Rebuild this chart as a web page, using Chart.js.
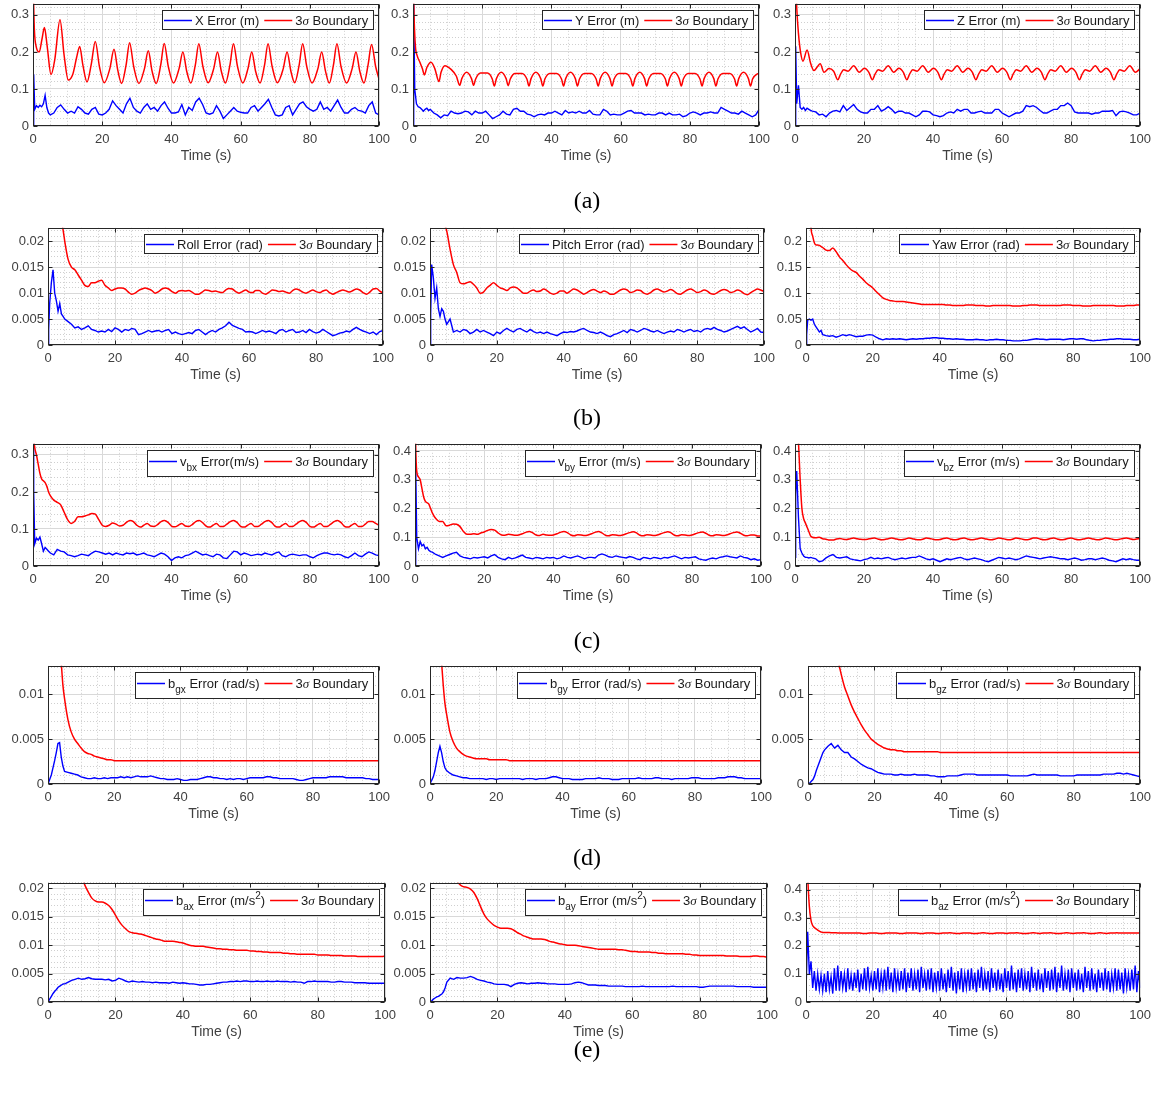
<!DOCTYPE html>
<html>
<head>
<meta charset="utf-8">
<script src="https://cdn.jsdelivr.net/npm/chart.js@4.4.1/dist/chart.umd.min.js"></script>
<style>
  body { margin: 0; background: #fff; width: 1163px; height: 1095px; position: relative; overflow: hidden; }
  .cap { position: absolute; width: 120px; margin-left: -60px; text-align: center; font-family: "Liberation Serif", "DejaVu Serif", serif; font-size: 24px; color: #000; line-height: 24px; }
</style>
</head>
<body>
<script>
// common time grid (s) for most series
const tGrid = [0, 0.2, 0.5, 1, 1.5, 2, 2.5, 3, 3.5, 4, 4.5, 5,
  6, 7, 8, 9, 10, 11, 12, 13, 14, 15,
  16, 17, 18, 19, 20, 21, 22, 23, 24, 25,
  26, 27, 28, 29, 30, 31, 32, 33, 34, 35,
  36, 37, 38, 39, 40, 41, 42, 43, 44, 45,
  46, 47, 48, 49, 50, 51, 52, 53, 54, 55,
  56, 57, 58, 59, 60, 61, 62, 63, 64, 65,
  66, 67, 68, 69, 70, 71, 72, 73, 74, 75,
  76, 77, 78, 79, 80, 81, 82, 83, 84, 85,
  86, 87, 88, 89, 90, 91, 92, 93, 94, 95,
  96, 97, 98, 99, 100];

// half-second grid for the b_az error
const tHalf = [0, 0.5, 1, 1.5, 2, 2.5, 3, 3.5, 4, 4.5, 5, 5.5, 6, 6.5, 7, 7.5, 8, 8.5, 9, 9.5,
  10, 10.5, 11, 11.5, 12, 12.5, 13, 13.5, 14, 14.5, 15, 15.5, 16, 16.5, 17, 17.5, 18, 18.5, 19, 19.5,
  20, 20.5, 21, 21.5, 22, 22.5, 23, 23.5, 24, 24.5, 25, 25.5, 26, 26.5, 27, 27.5, 28, 28.5, 29, 29.5,
  30, 30.5, 31, 31.5, 32, 32.5, 33, 33.5, 34, 34.5, 35, 35.5, 36, 36.5, 37, 37.5, 38, 38.5, 39, 39.5,
  40, 40.5, 41, 41.5, 42, 42.5, 43, 43.5, 44, 44.5, 45, 45.5, 46, 46.5, 47, 47.5, 48, 48.5, 49, 49.5,
  50, 50.5, 51, 51.5, 52, 52.5, 53, 53.5, 54, 54.5, 55, 55.5, 56, 56.5, 57, 57.5, 58, 58.5, 59, 59.5,
  60, 60.5, 61, 61.5, 62, 62.5, 63, 63.5, 64, 64.5, 65, 65.5, 66, 66.5, 67, 67.5, 68, 68.5, 69, 69.5,
  70, 70.5, 71, 71.5, 72, 72.5, 73, 73.5, 74, 74.5, 75, 75.5, 76, 76.5, 77, 77.5, 78, 78.5, 79, 79.5,
  80, 80.5, 81, 81.5, 82, 82.5, 83, 83.5, 84, 84.5, 85, 85.5, 86, 86.5, 87, 87.5, 88, 88.5, 89, 89.5,
  90, 90.5, 91, 91.5, 92, 92.5, 93, 93.5, 94, 94.5, 95, 95.5, 96, 96.5, 97, 97.5, 98, 98.5, 99, 99.5,
  100];

// ---- (a) position ----
const xErr = [0, 0.14, 0.045, 0.055, 0.05, 0.056, 0.052, 0.06, 0.083, 0.05, 0.035, 0.03,
  0.035, 0.05, 0.057, 0.045, 0.035, 0.04, 0.035, 0.052, 0.045, 0.035,
  0.032, 0.045, 0.05, 0.032, 0.03, 0.035, 0.045, 0.068, 0.055, 0.045,
  0.035, 0.06, 0.075, 0.05, 0.04, 0.035, 0.05, 0.06, 0.045, 0.05,
  0.04, 0.055, 0.065, 0.048, 0.035, 0.035, 0.038, 0.058, 0.03, 0.05,
  0.042, 0.065, 0.075, 0.058, 0.035, 0.032, 0.035, 0.055, 0.04, 0.02,
  0.03, 0.04, 0.05, 0.04, 0.037, 0.035, 0.035, 0.05, 0.055, 0.04,
  0.05, 0.06, 0.072, 0.05, 0.03, 0.027, 0.03, 0.05, 0.055, 0.03,
  0.045, 0.06, 0.065, 0.052, 0.045, 0.04, 0.045, 0.065, 0.045, 0.05,
  0.04, 0.055, 0.07, 0.05, 0.035, 0.035, 0.045, 0.05, 0.042, 0.04,
  0.035, 0.055, 0.065, 0.035, 0.03];
const xBoundT = [0, 0.4, 0.9, 1.8, 2.6, 3.3, 4.1, 5.2, 6.3, 7.8, 9, 10.2, 11.5, 12.6, 13.5, 14.4, 15.6, 16.8, 18, 19.2,
  20.6, 22.2, 23.4, 24.5, 25.6, 26.9, 27.9, 29.1, 30.6, 32.2, 33.3, 34.4, 35.6, 36.9, 37.9, 39.1,
  40.6, 42.2, 43.3, 44.4, 45.6, 46.9, 47.9, 49.1, 50.6, 52.2, 53.3, 54.4, 55.6, 56.9, 57.9, 59.1,
  60.6, 62.1, 63.2, 64.3, 65.6, 66.9, 67.9, 69.1, 70.6, 72.3, 73.4, 74.5, 75.6, 76.9, 77.9, 79.1,
  80.6, 82.3, 83.4, 84.5, 85.6, 86.8, 87.8, 89, 90.6, 92.2, 93.3, 94.4, 95.6, 96.8, 97.8, 99, 100];
const xBoundV = [0.4, 0.26, 0.215, 0.2, 0.235, 0.266, 0.215, 0.139, 0.18, 0.287, 0.19, 0.124, 0.14, 0.185, 0.215, 0.165, 0.119, 0.165, 0.228, 0.16,
  0.117, 0.155, 0.207, 0.15, 0.115, 0.165, 0.225, 0.16, 0.115, 0.155, 0.203, 0.148, 0.115, 0.165, 0.223, 0.16,
  0.116, 0.155, 0.2, 0.148, 0.116, 0.165, 0.222, 0.16, 0.117, 0.155, 0.2, 0.148, 0.116, 0.165, 0.222, 0.16,
  0.116, 0.155, 0.2, 0.148, 0.116, 0.165, 0.222, 0.16, 0.117, 0.155, 0.2, 0.148, 0.117, 0.165, 0.222, 0.16,
  0.116, 0.155, 0.2, 0.148, 0.116, 0.165, 0.222, 0.16, 0.116, 0.155, 0.2, 0.148, 0.116, 0.165, 0.22, 0.16, 0.125];

const yErr = [0, 0.33, 0.1, 0.06, 0.052, 0.05, 0.045, 0.04, 0.045, 0.048, 0.042, 0.045,
  0.035, 0.03, 0.022, 0.03, 0.028, 0.04, 0.035, 0.033, 0.035, 0.04,
  0.038, 0.03, 0.04, 0.035, 0.035, 0.04, 0.03, 0.02, 0.025, 0.03,
  0.04, 0.032, 0.03, 0.045, 0.048, 0.04, 0.04, 0.032, 0.03, 0.025,
  0.03, 0.032, 0.03, 0.035, 0.035, 0.04, 0.035, 0.03, 0.042, 0.035,
  0.038, 0.035, 0.04, 0.035, 0.035, 0.042, 0.032, 0.03, 0.03, 0.045,
  0.04, 0.03, 0.032, 0.03, 0.03, 0.035, 0.04, 0.042, 0.035, 0.035,
  0.035, 0.03, 0.032, 0.03, 0.03, 0.035, 0.035, 0.03, 0.035, 0.03,
  0.03, 0.032, 0.025, 0.028, 0.035, 0.038, 0.035, 0.03, 0.035, 0.035,
  0.038, 0.035, 0.035, 0.05, 0.045, 0.04, 0.035, 0.035, 0.032, 0.04,
  0.035, 0.03, 0.025, 0.03, 0.045];
const yBoundT = [0, 0.3, 0.7, 1.2, 2, 2.7, 3.3, 4, 5.2, 6.3, 7.5, 8.1, 9.2, 11, 12.5,
  13.5, 14.1, 15.5, 16.9, 17.5, 18.1, 19.5, 21.5, 22.9,
  23.5, 24.1, 25.5, 26.9, 27.5, 28.1, 29.5, 31.5, 32.9,
  33.5, 34.1, 35.5, 36.9, 37.5, 38.1, 39.5, 41.5, 42.9,
  43.5, 44.1, 45.5, 46.9, 47.5, 48.1, 49.5, 51.5, 52.9,
  53.5, 54.1, 55.5, 56.9, 57.5, 58.1, 59.5, 61.5, 62.9,
  63.5, 64.1, 65.5, 66.9, 67.5, 68.1, 69.5, 71.5, 72.9,
  73.5, 74.1, 75.5, 76.9, 77.5, 78.1, 79.5, 81.5, 82.9,
  83.5, 84.1, 85.5, 86.9, 87.5, 88.1, 89.5, 91.5, 92.9,
  93.5, 94.1, 95.5, 96.9, 97.5, 98.1, 99.5, 100];
const yBoundV = [0.45, 0.3, 0.215, 0.19, 0.172, 0.155, 0.138, 0.158, 0.172, 0.155, 0.12, 0.145, 0.163, 0.153, 0.135,
  0.11, 0.128, 0.145, 0.128, 0.11, 0.127, 0.143, 0.143, 0.127,
  0.108, 0.128, 0.145, 0.128, 0.109, 0.127, 0.142, 0.142, 0.127,
  0.108, 0.128, 0.145, 0.128, 0.108, 0.127, 0.142, 0.142, 0.127,
  0.108, 0.128, 0.145, 0.128, 0.108, 0.127, 0.142, 0.142, 0.127,
  0.108, 0.128, 0.145, 0.128, 0.108, 0.127, 0.142, 0.142, 0.127,
  0.108, 0.128, 0.145, 0.128, 0.108, 0.127, 0.142, 0.142, 0.127,
  0.108, 0.128, 0.145, 0.128, 0.108, 0.127, 0.142, 0.142, 0.127,
  0.108, 0.128, 0.145, 0.128, 0.108, 0.127, 0.142, 0.142, 0.127,
  0.108, 0.128, 0.145, 0.128, 0.108, 0.127, 0.141, 0.142];

const zErr = [0, 0.215, 0.06, 0.11, 0.05, 0.045, 0.05, 0.042, 0.048, 0.045, 0.042, 0.04,
  0.038, 0.03, 0.032, 0.025, 0.035, 0.04, 0.042, 0.038, 0.055, 0.042,
  0.05, 0.058, 0.045, 0.038, 0.035, 0.035, 0.045, 0.045, 0.055, 0.04,
  0.045, 0.052, 0.045, 0.035, 0.04, 0.04, 0.035, 0.035, 0.03, 0.025,
  0.03, 0.04, 0.04, 0.038, 0.03, 0.028, 0.025, 0.028, 0.035, 0.038,
  0.035, 0.045, 0.04, 0.045, 0.045, 0.035, 0.035, 0.038, 0.04, 0.035,
  0.035, 0.035, 0.045, 0.045, 0.035, 0.03, 0.025, 0.03, 0.035, 0.035,
  0.04, 0.055, 0.052, 0.055, 0.05, 0.042, 0.035, 0.035, 0.04, 0.045,
  0.045, 0.055, 0.055, 0.062, 0.055, 0.038, 0.035, 0.035, 0.035, 0.035,
  0.032, 0.035, 0.035, 0.04, 0.04, 0.04, 0.042, 0.028, 0.038, 0.04,
  0.038, 0.035, 0.03, 0.03, 0.035];
const zBoundT = [0, 0.5, 1, 1.6, 2.3, 3.5, 4.5, 5.5, 6.5, 7.3, 8.4, 9.8, 11.2,
  12.4, 13.2, 14.1, 15.4, 17, 18.6, 20.1, 21.4,
  22.4, 23.2, 24.1, 25.4, 27, 28.6, 30.1, 31.4,
  32.4, 33.2, 34.1, 35.4, 37, 38.6, 40.1, 41.4,
  42.4, 43.2, 44.1, 45.4, 47, 48.6, 50.1, 51.4,
  52.4, 53.2, 54.1, 55.4, 57, 58.6, 60.1, 61.4,
  62.4, 63.2, 64.1, 65.4, 67, 68.6, 70.1, 71.4,
  72.4, 73.2, 74.1, 75.4, 77, 78.6, 80.1, 81.4,
  82.4, 83.2, 84.1, 85.4, 87, 88.6, 90.1, 91.4,
  92.4, 93.2, 94.1, 95.4, 97, 98.6, 100];
const zBoundV = [0.45, 0.32, 0.25, 0.2, 0.175, 0.205, 0.17, 0.15, 0.16, 0.168, 0.145, 0.155, 0.148,
  0.125, 0.14, 0.152, 0.148, 0.163, 0.145, 0.156, 0.145,
  0.125, 0.14, 0.152, 0.148, 0.163, 0.145, 0.156, 0.145,
  0.125, 0.14, 0.152, 0.148, 0.163, 0.145, 0.156, 0.145,
  0.125, 0.14, 0.152, 0.148, 0.163, 0.145, 0.156, 0.145,
  0.125, 0.14, 0.152, 0.148, 0.163, 0.145, 0.156, 0.145,
  0.125, 0.14, 0.152, 0.148, 0.163, 0.145, 0.156, 0.145,
  0.125, 0.14, 0.152, 0.148, 0.163, 0.145, 0.156, 0.145,
  0.125, 0.14, 0.152, 0.148, 0.163, 0.145, 0.156, 0.145,
  0.125, 0.14, 0.152, 0.148, 0.163, 0.145, 0.155];

// ---- (b) attitude ----
const rollErr = [0, 0.003, 0.008, 0.012, 0.0145, 0.01, 0.0085, 0.0065, 0.008, 0.006, 0.0055, 0.005,
  0.0045, 0.004, 0.0033, 0.0035, 0.003, 0.0033, 0.0037, 0.003, 0.0028, 0.0025,
  0.0027, 0.0025, 0.003, 0.0026, 0.0033, 0.003, 0.0025, 0.003, 0.0028, 0.0032,
  0.003, 0.002, 0.0022, 0.0025, 0.0028, 0.0025, 0.0027, 0.0028, 0.0025, 0.0028,
  0.003, 0.0022, 0.0025, 0.0022, 0.002, 0.0022, 0.0024, 0.0022, 0.0028, 0.003,
  0.0025, 0.002, 0.0025, 0.0028, 0.0025, 0.003, 0.0033, 0.0037, 0.0044, 0.0038,
  0.0035, 0.0032, 0.003, 0.0025, 0.0026, 0.0025, 0.0022, 0.0025, 0.0028, 0.0025,
  0.0027, 0.0025, 0.0022, 0.0028, 0.003, 0.0025, 0.0028, 0.003, 0.0024, 0.0025,
  0.0028, 0.0024, 0.003, 0.0026, 0.0023, 0.0025, 0.003, 0.0026, 0.0022, 0.0018,
  0.002, 0.0023, 0.0024, 0.0027, 0.0025, 0.003, 0.0034, 0.003, 0.0027, 0.0025,
  0.0022, 0.0025, 0.002, 0.0026, 0.0028];
const rollBound = [0.06, 0.055, 0.05, 0.045, 0.04, 0.036, 0.032, 0.029, 0.026, 0.024, 0.0222, 0.02,
  0.0165, 0.015, 0.0145, 0.0135, 0.0125, 0.0115, 0.0113, 0.012, 0.012, 0.0123,
  0.0125, 0.0115, 0.011, 0.0105, 0.0108, 0.011, 0.011, 0.0108, 0.0102, 0.0098,
  0.01, 0.0105, 0.0108, 0.011, 0.0108, 0.0105, 0.01, 0.0103, 0.0108, 0.011,
  0.0108, 0.0103, 0.01, 0.0104, 0.0105, 0.0104, 0.0105, 0.0102, 0.0098, 0.0098,
  0.0102, 0.0106, 0.0105, 0.0103, 0.0104, 0.0102, 0.0101, 0.0106, 0.0109, 0.0108,
  0.0103, 0.01, 0.0103, 0.0106, 0.0102, 0.0101, 0.0105, 0.0105, 0.01, 0.0098,
  0.0102, 0.0106, 0.0105, 0.0103, 0.0104, 0.0102, 0.01, 0.0105, 0.0108, 0.0106,
  0.0102, 0.01, 0.0103, 0.0106, 0.0103, 0.0101, 0.0104, 0.0106, 0.0101, 0.0098,
  0.0101, 0.0104, 0.0106, 0.0104, 0.0102, 0.0105, 0.0108, 0.0106, 0.0101, 0.0098,
  0.0102, 0.0108, 0.0109, 0.0104, 0.01];

const pitchErr = [0, 0.006, 0.0155, 0.013, 0.009, 0.011, 0.007, 0.0055, 0.007, 0.0065, 0.005, 0.004,
  0.005, 0.0025, 0.0028, 0.0025, 0.003, 0.0028, 0.0022, 0.0025, 0.003, 0.0025,
  0.0028, 0.0025, 0.0022, 0.0018, 0.0025, 0.0022, 0.0028, 0.0032, 0.0028, 0.0025,
  0.003, 0.0032, 0.0028, 0.0025, 0.003, 0.0026, 0.0023, 0.0025, 0.0022, 0.0025,
  0.0022, 0.002, 0.0018, 0.0022, 0.0025, 0.0024, 0.0026, 0.0025, 0.0027, 0.003,
  0.0032, 0.0028, 0.0025, 0.0024, 0.0022, 0.0025, 0.0022, 0.0018, 0.0016, 0.002,
  0.0022, 0.0025, 0.0028, 0.0024, 0.003, 0.0028, 0.0025, 0.0028, 0.0032, 0.003,
  0.0027, 0.0025, 0.0028, 0.0025, 0.0022, 0.0025, 0.0027, 0.0025, 0.003, 0.0028,
  0.0025, 0.0028, 0.003, 0.0026, 0.0028, 0.0025, 0.003, 0.0032, 0.003, 0.0034,
  0.003, 0.0028, 0.0025, 0.0027, 0.003, 0.0033, 0.0036, 0.0032, 0.0035, 0.003,
  0.0025, 0.0028, 0.0032, 0.0025, 0.0024];
const pitchBound = [0.06, 0.055, 0.05, 0.045, 0.04, 0.036, 0.032, 0.029, 0.026, 0.024, 0.023, 0.022,
  0.0185, 0.0155, 0.014, 0.012, 0.0118, 0.012, 0.0122, 0.0117, 0.011, 0.01,
  0.0102, 0.011, 0.0115, 0.012, 0.0115, 0.011, 0.0108, 0.0105, 0.011, 0.0112,
  0.011, 0.0105, 0.01, 0.01, 0.0104, 0.0106, 0.0103, 0.0104, 0.0108, 0.0105,
  0.01, 0.0098, 0.01, 0.0104, 0.0104, 0.01, 0.0104, 0.0108, 0.0106, 0.0102,
  0.0098, 0.0101, 0.0105, 0.0107, 0.0104, 0.0101, 0.0104, 0.0102, 0.0098, 0.0098,
  0.0102, 0.0106, 0.0108, 0.0106, 0.0101, 0.0103, 0.0106, 0.0105, 0.01, 0.0098,
  0.0101, 0.0106, 0.0108, 0.0105, 0.0102, 0.0104, 0.0107, 0.0104, 0.0099, 0.0098,
  0.0102, 0.0106, 0.0108, 0.0105, 0.0101, 0.0103, 0.0106, 0.0104, 0.0099, 0.0098,
  0.0101, 0.0105, 0.0107, 0.0105, 0.0101, 0.0103, 0.0106, 0.0104, 0.0099, 0.0097,
  0.0101, 0.0105, 0.0108, 0.0106, 0.0103];

const yawErr = [0, 0.02, 0.048, 0.05, 0.048, 0.05, 0.04, 0.035, 0.03, 0.025, 0.028, 0.02,
  0.018, 0.017, 0.018, 0.015, 0.017, 0.02, 0.018, 0.02, 0.018, 0.016,
  0.017, 0.017, 0.019, 0.02, 0.019, 0.015, 0.012, 0.01, 0.012, 0.011,
  0.012, 0.011, 0.012, 0.011, 0.01, 0.011, 0.012, 0.011, 0.012, 0.012,
  0.013, 0.013, 0.014, 0.014, 0.013, 0.013, 0.012, 0.012, 0.011, 0.012,
  0.011, 0.011, 0.01, 0.01, 0.01, 0.011, 0.01, 0.01, 0.009, 0.01,
  0.01, 0.011, 0.01, 0.01, 0.009, 0.009, 0.008, 0.008, 0.008, 0.009,
  0.009, 0.01, 0.011, 0.012, 0.011, 0.011, 0.01, 0.011, 0.011, 0.011,
  0.011, 0.01, 0.011, 0.012, 0.012, 0.011, 0.012, 0.012, 0.01, 0.009,
  0.008, 0.009, 0.009, 0.01, 0.01, 0.011, 0.011, 0.012, 0.012, 0.011,
  0.011, 0.011, 0.01, 0.01, 0.011];
const yawBound = [0.6, 0.5, 0.4, 0.3, 0.226, 0.21, 0.197, 0.193, 0.193, 0.192, 0.19, 0.188,
  0.183, 0.182, 0.187, 0.18, 0.17, 0.163, 0.155, 0.148, 0.143, 0.14,
  0.133, 0.127, 0.12, 0.115, 0.11, 0.103, 0.097, 0.091, 0.088, 0.086,
  0.085, 0.084, 0.084, 0.084, 0.083, 0.082, 0.081, 0.08, 0.079, 0.078,
  0.078, 0.078, 0.078, 0.078, 0.078, 0.078, 0.077, 0.077, 0.076, 0.076,
  0.076, 0.076, 0.077, 0.077, 0.077, 0.076, 0.076, 0.076, 0.075, 0.075,
  0.076, 0.076, 0.076, 0.076, 0.076, 0.076, 0.075, 0.075, 0.075, 0.076,
  0.076, 0.077, 0.077, 0.077, 0.076, 0.076, 0.076, 0.076, 0.076, 0.076,
  0.076, 0.077, 0.077, 0.077, 0.076, 0.076, 0.076, 0.075, 0.075, 0.075,
  0.076, 0.076, 0.076, 0.076, 0.076, 0.076, 0.076, 0.075, 0.075, 0.075,
  0.076, 0.076, 0.076, 0.077, 0.077];

// ---- (c) velocity ----
const vbxErr = [0.33, 0.2, 0.06, 0.075, 0.07, 0.078, 0.06, 0.04, 0.05, 0.045, 0.04, 0.035,
  0.03, 0.045, 0.04, 0.038, 0.03, 0.028, 0.025, 0.028, 0.032, 0.03,
  0.028, 0.035, 0.04, 0.038, 0.035, 0.032, 0.035, 0.03, 0.035, 0.032,
  0.03, 0.035, 0.033, 0.035, 0.03, 0.032, 0.035, 0.03, 0.028, 0.025,
  0.03, 0.035, 0.032, 0.025, 0.015, 0.022, 0.025, 0.022, 0.028, 0.03,
  0.035, 0.04, 0.035, 0.03, 0.032, 0.028, 0.025, 0.032, 0.03, 0.022,
  0.02, 0.03, 0.04, 0.038, 0.03, 0.035, 0.032, 0.028, 0.03, 0.032,
  0.03, 0.035, 0.032, 0.03, 0.035, 0.038, 0.028, 0.025, 0.03, 0.032,
  0.03, 0.028, 0.03, 0.03, 0.025, 0.022, 0.028, 0.032, 0.035, 0.035,
  0.032, 0.03, 0.032, 0.03, 0.025, 0.022, 0.028, 0.035, 0.028, 0.025,
  0.032, 0.038, 0.035, 0.03, 0.028];
const vbxBound = [0.4, 0.35, 0.32, 0.3, 0.275, 0.25, 0.235, 0.23, 0.225, 0.215, 0.2, 0.19,
  0.178, 0.172, 0.165, 0.145, 0.125, 0.115, 0.12, 0.133, 0.133, 0.135,
  0.138, 0.142, 0.14, 0.125, 0.11, 0.107, 0.11, 0.116, 0.113, 0.108,
  0.11, 0.118, 0.123, 0.12, 0.11, 0.105, 0.11, 0.115, 0.108, 0.107,
  0.112, 0.12, 0.123, 0.118, 0.108, 0.106, 0.11, 0.115, 0.108, 0.107,
  0.112, 0.12, 0.123, 0.117, 0.108, 0.105, 0.11, 0.115, 0.107, 0.107,
  0.113, 0.12, 0.123, 0.117, 0.107, 0.105, 0.11, 0.115, 0.107, 0.107,
  0.113, 0.12, 0.123, 0.117, 0.107, 0.105, 0.11, 0.115, 0.107, 0.107,
  0.113, 0.12, 0.123, 0.117, 0.107, 0.105, 0.11, 0.115, 0.107, 0.107,
  0.113, 0.12, 0.123, 0.117, 0.107, 0.105, 0.11, 0.115, 0.107, 0.107,
  0.113, 0.12, 0.12, 0.115, 0.11];

const vbyErr = [0, 0.35, 0.1, 0.06, 0.085, 0.07, 0.075, 0.06, 0.065, 0.055, 0.05, 0.048,
  0.04, 0.035, 0.03, 0.035, 0.04, 0.045, 0.048, 0.035, 0.03, 0.028,
  0.025, 0.03, 0.028, 0.03, 0.032, 0.028, 0.035, 0.04, 0.03, 0.025,
  0.022, 0.03, 0.025, 0.028, 0.033, 0.038, 0.03, 0.028, 0.025, 0.03,
  0.028, 0.025, 0.03, 0.028, 0.03, 0.025, 0.028, 0.035, 0.03, 0.028,
  0.032, 0.035, 0.03, 0.025, 0.03, 0.03, 0.028, 0.038, 0.042, 0.038,
  0.032, 0.03, 0.035, 0.032, 0.03, 0.028, 0.033, 0.03, 0.025, 0.022,
  0.03, 0.028, 0.025, 0.03, 0.028, 0.025, 0.03, 0.028, 0.032, 0.035,
  0.03, 0.025, 0.03, 0.028, 0.03, 0.032, 0.025, 0.022, 0.02, 0.025,
  0.028, 0.025, 0.03, 0.032, 0.035, 0.032, 0.03, 0.028, 0.035, 0.03,
  0.028, 0.022, 0.025, 0.02, 0.022];
const vbyBound = [0.6, 0.42, 0.33, 0.31, 0.3, 0.27, 0.24, 0.225, 0.22, 0.215, 0.2, 0.185,
  0.165, 0.155, 0.155, 0.14, 0.142, 0.146, 0.145, 0.137, 0.12, 0.11,
  0.11, 0.112, 0.11, 0.115, 0.118, 0.124, 0.127, 0.125, 0.115, 0.108,
  0.107, 0.11, 0.109, 0.107, 0.108, 0.112, 0.117, 0.12, 0.115, 0.108,
  0.106, 0.11, 0.108, 0.107, 0.108, 0.112, 0.117, 0.12, 0.116, 0.108,
  0.105, 0.109, 0.108, 0.106, 0.108, 0.112, 0.117, 0.12, 0.115, 0.107,
  0.105, 0.109, 0.108, 0.106, 0.108, 0.112, 0.116, 0.119, 0.115, 0.107,
  0.105, 0.109, 0.108, 0.106, 0.108, 0.112, 0.116, 0.119, 0.115, 0.107,
  0.105, 0.109, 0.108, 0.106, 0.108, 0.112, 0.116, 0.118, 0.114, 0.107,
  0.105, 0.109, 0.108, 0.106, 0.108, 0.112, 0.116, 0.118, 0.114, 0.107,
  0.105, 0.108, 0.108, 0.104, 0.104];

const vbzErr = [0.03, 0.25, 0.33, 0.17, 0.06, 0.045, 0.035, 0.03, 0.03, 0.028, 0.03, 0.028,
  0.025, 0.015, 0.018, 0.028, 0.035, 0.04, 0.03, 0.028, 0.03, 0.032,
  0.025, 0.022, 0.02, 0.018, 0.022, 0.025, 0.03, 0.025, 0.028, 0.025,
  0.028, 0.03, 0.025, 0.022, 0.025, 0.028, 0.025, 0.028, 0.03, 0.03,
  0.035, 0.03, 0.025, 0.022, 0.025, 0.02, 0.015, 0.02, 0.025, 0.022,
  0.025, 0.028, 0.03, 0.025, 0.022, 0.025, 0.028, 0.025, 0.022, 0.018,
  0.015, 0.02, 0.025, 0.03, 0.028, 0.025, 0.028, 0.025, 0.022, 0.025,
  0.03, 0.035, 0.032, 0.03, 0.028, 0.025, 0.028, 0.03, 0.032, 0.03,
  0.028, 0.025, 0.025, 0.022, 0.025, 0.028, 0.025, 0.02, 0.022, 0.025,
  0.025, 0.022, 0.025, 0.028, 0.025, 0.02, 0.018, 0.015, 0.02, 0.025,
  0.022, 0.025, 0.022, 0.02, 0.02];
const vbzBound = [0.6, 0.55, 0.5, 0.43, 0.3, 0.2, 0.165, 0.15, 0.135, 0.12, 0.105, 0.1,
  0.098, 0.1, 0.095, 0.093, 0.09, 0.09, 0.094, 0.096, 0.093, 0.092,
  0.095, 0.097, 0.095, 0.093, 0.092, 0.093, 0.096, 0.097, 0.094, 0.091,
  0.092, 0.095, 0.097, 0.095, 0.092, 0.091, 0.094, 0.097, 0.095, 0.092,
  0.091, 0.093, 0.097, 0.096, 0.093, 0.091, 0.092, 0.096, 0.097, 0.094,
  0.091, 0.092, 0.096, 0.097, 0.094, 0.091, 0.092, 0.095, 0.097, 0.095,
  0.092, 0.091, 0.094, 0.097, 0.096, 0.093, 0.091, 0.093, 0.097, 0.096,
  0.093, 0.091, 0.093, 0.097, 0.097, 0.094, 0.091, 0.092, 0.096, 0.097,
  0.094, 0.091, 0.092, 0.096, 0.097, 0.094, 0.091, 0.092, 0.095, 0.097,
  0.095, 0.092, 0.091, 0.094, 0.097, 0.096, 0.093, 0.091, 0.093, 0.096,
  0.097, 0.095, 0.092, 0.094, 0.096];

// ---- (d) gyro bias ----
const bgxErr = [0, 0.0002, 0.0005, 0.001, 0.0018, 0.0026, 0.0035, 0.0045, 0.0046, 0.003, 0.002, 0.0014,
  0.0013, 0.0012, 0.0011, 0.001, 0.0008, 0.0007, 0.0006, 0.0006, 0.0007, 0.0006,
  0.0006, 0.0007, 0.0006, 0.0007, 0.0007, 0.0007, 0.0008, 0.0007, 0.0008, 0.0007,
  0.0008, 0.0009, 0.0008, 0.0008, 0.0008, 0.0009, 0.0008, 0.0007, 0.0006, 0.0006,
  0.0005, 0.0005, 0.0005, 0.0006, 0.0005, 0.0004, 0.0004, 0.0005, 0.0005, 0.0005,
  0.0006, 0.0007, 0.0008, 0.0008, 0.0007, 0.0007, 0.0006, 0.0006, 0.0005, 0.0006,
  0.0005, 0.0006, 0.0006, 0.0005, 0.0006, 0.0007, 0.0007, 0.0007, 0.0007, 0.0007,
  0.0008, 0.0008, 0.0007, 0.0007, 0.0006, 0.0006, 0.0006, 0.0006, 0.0006, 0.0005,
  0.0004, 0.0004, 0.0005, 0.0006, 0.0007, 0.0007, 0.0007, 0.0007, 0.0007, 0.0008,
  0.0008, 0.0008, 0.0008, 0.0008, 0.0007, 0.0007, 0.0007, 0.0007, 0.0007, 0.0007,
  0.0006, 0.0006, 0.0005, 0.0005, 0.0005];
const bgxBound = [0.05, 0.045, 0.04, 0.033, 0.028, 0.025, 0.022, 0.019, 0.016, 0.0135, 0.011, 0.0095,
  0.0072, 0.0058, 0.005, 0.0045, 0.004, 0.0036, 0.0034, 0.0033, 0.0031, 0.003,
  0.0029, 0.0028, 0.0027, 0.0027, 0.0026, 0.0026, 0.0026, 0.0026, 0.0026, 0.0026,
  0.0026, 0.0026, 0.0026, 0.0026, 0.0026, 0.0026, 0.0026, 0.0026, 0.0026, 0.0026,
  0.0026, 0.0026, 0.0026, 0.0026, 0.0026, 0.0026, 0.0026, 0.0026, 0.0026, 0.0026,
  0.0026, 0.0026, 0.0026, 0.0026, 0.0026, 0.0026, 0.0026, 0.0026, 0.0026, 0.0026,
  0.0026, 0.0026, 0.0026, 0.0026, 0.0026, 0.0026, 0.0026, 0.0026, 0.0026, 0.0026,
  0.0026, 0.0026, 0.0026, 0.0026, 0.0026, 0.0026, 0.0026, 0.0026, 0.0026, 0.0026,
  0.0026, 0.0026, 0.0026, 0.0026, 0.0026, 0.0026, 0.0026, 0.0026, 0.0026, 0.0026,
  0.0026, 0.0026, 0.0026, 0.0026, 0.0026, 0.0026, 0.0026, 0.0026, 0.0026, 0.0026,
  0.0026, 0.0026, 0.0026, 0.0026, 0.0026];

const bgyErr = [0, 0.0002, 0.0004, 0.0008, 0.0015, 0.0025, 0.0035, 0.0042, 0.0035, 0.0025, 0.0018, 0.0015,
  0.0012, 0.001, 0.0009, 0.0008, 0.0007, 0.0007, 0.0006, 0.0006, 0.0006, 0.0006,
  0.0006, 0.0005, 0.0006, 0.0006, 0.0005, 0.0006, 0.0006, 0.0006, 0.0006, 0.0006,
  0.0006, 0.0006, 0.0005, 0.0006, 0.0006, 0.0006, 0.0005, 0.0006, 0.0006, 0.0006,
  0.0007, 0.0008, 0.0008, 0.0007, 0.0006, 0.0006, 0.0006, 0.0005, 0.0005, 0.0005,
  0.0005, 0.0006, 0.0006, 0.0006, 0.0006, 0.0007, 0.0006, 0.0006, 0.0006, 0.0005,
  0.0005, 0.0005, 0.0006, 0.0006, 0.0006, 0.0006, 0.0006, 0.0007, 0.0006, 0.0006,
  0.0006, 0.0006, 0.0007, 0.0007, 0.0006, 0.0006, 0.0006, 0.0005, 0.0006, 0.0006,
  0.0006, 0.0006, 0.0006, 0.0007, 0.0007, 0.0007, 0.0006, 0.0006, 0.0006, 0.0006,
  0.0006, 0.0007, 0.0007, 0.0007, 0.0008, 0.0008, 0.0008, 0.0007, 0.0007, 0.0006,
  0.0006, 0.0006, 0.0006, 0.0006, 0.0006];
const bgyBound = [0.05, 0.045, 0.04, 0.033, 0.027, 0.022, 0.019, 0.016, 0.0135, 0.011, 0.009, 0.0078,
  0.0058, 0.0047, 0.004, 0.0036, 0.0033, 0.0031, 0.003, 0.0029, 0.0028, 0.0028,
  0.0028, 0.0028, 0.0027, 0.0027, 0.0027, 0.0027, 0.0027, 0.0027, 0.0026, 0.0026,
  0.0026, 0.0026, 0.0026, 0.0026, 0.0026, 0.0026, 0.0026, 0.0026, 0.0026, 0.0026,
  0.0026, 0.0026, 0.0026, 0.0026, 0.0026, 0.0026, 0.0026, 0.0026, 0.0026, 0.0026,
  0.0026, 0.0026, 0.0026, 0.0026, 0.0026, 0.0026, 0.0026, 0.0026, 0.0026, 0.0026,
  0.0026, 0.0026, 0.0026, 0.0026, 0.0026, 0.0026, 0.0026, 0.0026, 0.0026, 0.0026,
  0.0026, 0.0026, 0.0026, 0.0026, 0.0026, 0.0026, 0.0026, 0.0026, 0.0026, 0.0026,
  0.0026, 0.0026, 0.0026, 0.0026, 0.0026, 0.0026, 0.0026, 0.0026, 0.0026, 0.0026,
  0.0026, 0.0026, 0.0026, 0.0026, 0.0026, 0.0026, 0.0026, 0.0026, 0.0026, 0.0026,
  0.0026, 0.0026, 0.0026, 0.0026, 0.0026];

const bgzErr = [0, 0.0001, 0.0001, 0.0003, 0.0005, 0.0009, 0.0015, 0.002, 0.0025, 0.003, 0.0035, 0.0038,
  0.0042, 0.0045, 0.004, 0.0043, 0.0038, 0.0035, 0.0035, 0.003, 0.0028, 0.0025,
  0.0022, 0.002, 0.0018, 0.0017, 0.0015, 0.0013, 0.0012, 0.0011, 0.0011, 0.0011,
  0.001, 0.001, 0.0011, 0.001, 0.001, 0.001, 0.0011, 0.001, 0.001, 0.001,
  0.001, 0.0009, 0.0009, 0.0008, 0.0008, 0.0008, 0.0009, 0.0009, 0.0009, 0.0009,
  0.001, 0.0011, 0.0011, 0.0011, 0.0011, 0.001, 0.001, 0.001, 0.001, 0.001,
  0.001, 0.001, 0.001, 0.001, 0.001, 0.0009, 0.0009, 0.0009, 0.0009, 0.0009,
  0.0009, 0.001, 0.0011, 0.001, 0.001, 0.001, 0.001, 0.001, 0.001, 0.001,
  0.0009, 0.0009, 0.0009, 0.0009, 0.0009, 0.001, 0.001, 0.001, 0.001, 0.001,
  0.001, 0.001, 0.001, 0.0011, 0.0011, 0.0011, 0.0011, 0.0012, 0.0012, 0.0011,
  0.0012, 0.0011, 0.001, 0.0009, 0.0008];
const bgzBound = [0.06, 0.055, 0.05, 0.045, 0.04, 0.036, 0.033, 0.03, 0.027, 0.025, 0.023, 0.021,
  0.019, 0.017, 0.0152, 0.0138, 0.0122, 0.0108, 0.0098, 0.0088, 0.008, 0.0073,
  0.0066, 0.006, 0.0055, 0.005, 0.0047, 0.0044, 0.0042, 0.004, 0.0039, 0.0038,
  0.0038, 0.0037, 0.0037, 0.0036, 0.0036, 0.0036, 0.0036, 0.0036, 0.0036, 0.0036,
  0.0036, 0.0036, 0.0036, 0.0036, 0.0035, 0.0035, 0.0035, 0.0035, 0.0035, 0.0035,
  0.0035, 0.0035, 0.0035, 0.0035, 0.0035, 0.0035, 0.0035, 0.0035, 0.0035, 0.0035,
  0.0035, 0.0035, 0.0035, 0.0035, 0.0035, 0.0035, 0.0035, 0.0035, 0.0035, 0.0035,
  0.0035, 0.0035, 0.0035, 0.0035, 0.0035, 0.0035, 0.0035, 0.0035, 0.0035, 0.0035,
  0.0035, 0.0035, 0.0035, 0.0035, 0.0035, 0.0035, 0.0035, 0.0035, 0.0035, 0.0035,
  0.0035, 0.0035, 0.0035, 0.0035, 0.0035, 0.0035, 0.0035, 0.0035, 0.0035, 0.0035,
  0.0035, 0.0035, 0.0035, 0.0035, 0.0035];

// ---- (e) accelerometer bias ----
const baxErr = [0, 0.0002, 0.0005, 0.001, 0.0015, 0.0019, 0.0022, 0.0026, 0.0028, 0.003, 0.0032, 0.0032,
  0.0035, 0.0038, 0.004, 0.0042, 0.004, 0.0041, 0.0043, 0.0041, 0.004, 0.004,
  0.004, 0.0039, 0.004, 0.0037, 0.0038, 0.0042, 0.004, 0.0037, 0.0035, 0.0037,
  0.0036, 0.0035, 0.0036, 0.0035, 0.0035, 0.0034, 0.0035, 0.0034, 0.0034, 0.0034,
  0.0033, 0.0035, 0.0034, 0.0033, 0.0034, 0.0033, 0.0032, 0.0032, 0.0031, 0.003,
  0.003, 0.0031, 0.0031, 0.0032, 0.0033, 0.0034, 0.0035, 0.0035, 0.0036, 0.0036,
  0.0037, 0.0036, 0.0037, 0.0037, 0.0036, 0.0036, 0.0037, 0.0036, 0.0036, 0.0037,
  0.0036, 0.0036, 0.0037, 0.0036, 0.0036, 0.0036, 0.0035, 0.0036, 0.0035, 0.0035,
  0.0033, 0.0036, 0.0036, 0.0037, 0.0036, 0.0036, 0.0036, 0.0036, 0.0035, 0.0035,
  0.0036, 0.0036, 0.0035, 0.0035, 0.0035, 0.0034, 0.0034, 0.0034, 0.0034, 0.0033,
  0.0033, 0.0033, 0.0033, 0.0033, 0.0033];
const baxBound = [0.06, 0.055, 0.05, 0.045, 0.042, 0.04, 0.038, 0.036, 0.034, 0.032, 0.03, 0.029,
  0.027, 0.0255, 0.024, 0.023, 0.022, 0.0205, 0.0193, 0.0183, 0.0178, 0.0176,
  0.0176, 0.0174, 0.017, 0.0163, 0.0153, 0.0143, 0.0135, 0.0129, 0.0124, 0.0122,
  0.0121, 0.012, 0.0119, 0.0117, 0.0115, 0.0113, 0.0111, 0.011, 0.0108, 0.0107,
  0.0107, 0.0107, 0.0106, 0.0105, 0.0104, 0.0102, 0.01, 0.0099, 0.0098, 0.0098,
  0.0098, 0.0097, 0.0096, 0.0095, 0.0094, 0.0094, 0.0093, 0.0093, 0.0092, 0.0092,
  0.0091, 0.0091, 0.0091, 0.0091, 0.009, 0.009, 0.0089, 0.0089, 0.0088, 0.0088,
  0.0087, 0.0087, 0.0087, 0.0087, 0.0086, 0.0086, 0.0085, 0.0085, 0.0084, 0.0084,
  0.0084, 0.0084, 0.0084, 0.0084, 0.0083, 0.0083, 0.0083, 0.0083, 0.0082, 0.0082,
  0.0082, 0.0082, 0.0081, 0.0081, 0.0081, 0.0081, 0.008, 0.008, 0.008, 0.008,
  0.008, 0.008, 0.008, 0.008, 0.0081];

const bayErr = [0, 0.0001, 0.0002, 0.0005, 0.0007, 0.0009, 0.001, 0.0012, 0.0014, 0.0018, 0.0025, 0.0035,
  0.0042, 0.004, 0.0043, 0.0042, 0.0042, 0.0043, 0.0045, 0.0043, 0.004, 0.0038,
  0.0037, 0.0035, 0.0034, 0.0032, 0.0031, 0.0031, 0.0031, 0.003, 0.0027, 0.0031,
  0.0033, 0.0034, 0.0033, 0.0032, 0.0033, 0.0033, 0.0034, 0.0033, 0.0033, 0.0032,
  0.0032, 0.0032, 0.0031, 0.0031, 0.0031, 0.0031, 0.0032, 0.0034, 0.0035, 0.0034,
  0.0032, 0.003, 0.003, 0.003, 0.0029, 0.0029, 0.0029, 0.0028, 0.0028, 0.0028,
  0.0028, 0.0028, 0.0027, 0.0027, 0.0027, 0.0027, 0.0027, 0.0028, 0.0027, 0.0027,
  0.0027, 0.0027, 0.0027, 0.0027, 0.0027, 0.0027, 0.0028, 0.0027, 0.0027, 0.0027,
  0.0027, 0.0027, 0.0027, 0.0027, 0.0026, 0.0026, 0.0027, 0.0028, 0.0028, 0.0028,
  0.0028, 0.0028, 0.0028, 0.0028, 0.0028, 0.0027, 0.0027, 0.0027, 0.0027, 0.0027,
  0.0026, 0.0026, 0.0026, 0.0026, 0.0026];
const bayBound = [0.05, 0.045, 0.042, 0.04, 0.038, 0.036, 0.034, 0.032, 0.03, 0.029, 0.028, 0.027,
  0.025, 0.0235, 0.0215, 0.0206, 0.0203, 0.0202, 0.0199, 0.0193, 0.0182, 0.0168,
  0.0155, 0.0146, 0.014, 0.0135, 0.0132, 0.013, 0.013, 0.013, 0.0129, 0.0126,
  0.0122, 0.0119, 0.0116, 0.0114, 0.0112, 0.0111, 0.0111, 0.0111, 0.011, 0.0108,
  0.0106, 0.0105, 0.0103, 0.0102, 0.0101, 0.01, 0.01, 0.01, 0.0099, 0.0098,
  0.0097, 0.0096, 0.0095, 0.0094, 0.0093, 0.0093, 0.0093, 0.0093, 0.0093, 0.0093,
  0.0092, 0.0092, 0.0091, 0.009, 0.0089, 0.0089, 0.0088, 0.0088, 0.0088, 0.0088,
  0.0087, 0.0087, 0.0086, 0.0086, 0.0085, 0.0085, 0.0085, 0.0085, 0.0085, 0.0085,
  0.0084, 0.0084, 0.0083, 0.0083, 0.0082, 0.0082, 0.0082, 0.0082, 0.0082, 0.0082,
  0.0082, 0.0082, 0.0081, 0.0081, 0.0081, 0.0081, 0.008, 0.008, 0.008, 0.008,
  0.0081, 0.0081, 0.008, 0.008, 0.0079];

const bazErr = [0.04, 0.25, 0.1, 0.145, 0.05, 0.11, 0.04, 0.1, 0.045, 0.095, 0.04, 0.1, 0.035, 0.11, 0.045, 0.09, 0.03, 0.12, 0.04, 0.13,
  0.04, 0.11, 0.05, 0.1, 0.035, 0.12, 0.045, 0.095, 0.04, 0.105, 0.05, 0.115, 0.035, 0.1, 0.045, 0.12, 0.04, 0.125, 0.05, 0.095,
  0.04, 0.11, 0.045, 0.12, 0.035, 0.1, 0.05, 0.115, 0.04, 0.125, 0.045, 0.105, 0.035, 0.12, 0.05, 0.1, 0.04, 0.11, 0.045, 0.12,
  0.035, 0.105, 0.05, 0.12, 0.04, 0.1, 0.045, 0.115, 0.035, 0.125, 0.05, 0.1, 0.04, 0.115, 0.045, 0.12, 0.035, 0.105, 0.05, 0.11,
  0.04, 0.12, 0.045, 0.1, 0.035, 0.115, 0.05, 0.125, 0.04, 0.105, 0.03, 0.11, 0.045, 0.12, 0.035, 0.1, 0.05, 0.115, 0.04, 0.12,
  0.045, 0.105, 0.035, 0.115, 0.05, 0.125, 0.04, 0.1, 0.045, 0.11, 0.035, 0.12, 0.05, 0.105, 0.04, 0.115, 0.045, 0.1, 0.035, 0.12,
  0.05, 0.11, 0.04, 0.13, 0.045, 0.105, 0.035, 0.115, 0.05, 0.12, 0.04, 0.1, 0.045, 0.11, 0.035, 0.125, 0.05, 0.105, 0.04, 0.115,
  0.045, 0.1, 0.035, 0.12, 0.05, 0.11, 0.04, 0.115, 0.045, 0.125, 0.035, 0.105, 0.05, 0.13, 0.04, 0.1, 0.045, 0.115, 0.035, 0.12,
  0.05, 0.105, 0.04, 0.115, 0.045, 0.1, 0.035, 0.125, 0.05, 0.11, 0.04, 0.12, 0.045, 0.1, 0.035, 0.115, 0.05, 0.105, 0.04, 0.12,
  0.045, 0.11, 0.035, 0.1, 0.05, 0.12, 0.04, 0.115, 0.045, 0.105, 0.03, 0.12, 0.05, 0.1, 0.04, 0.115, 0.045, 0.13, 0.035, 0.11,
  0.05];
const bazBound = [0.6, 0.55, 0.45, 0.34, 0.29, 0.272, 0.265, 0.26, 0.256, 0.252, 0.249, 0.247,
  0.247, 0.247, 0.246, 0.246, 0.245, 0.245, 0.245, 0.245, 0.245, 0.245,
  0.245, 0.244, 0.244, 0.245, 0.245, 0.245, 0.244, 0.244, 0.245, 0.245,
  0.245, 0.245, 0.244, 0.244, 0.245, 0.245, 0.245, 0.245, 0.244, 0.244,
  0.245, 0.245, 0.245, 0.244, 0.244, 0.245, 0.245, 0.246, 0.245, 0.244,
  0.244, 0.245, 0.245, 0.245, 0.244, 0.244, 0.245, 0.246, 0.245, 0.244,
  0.244, 0.245, 0.245, 0.245, 0.244, 0.245, 0.245, 0.246, 0.245, 0.244,
  0.244, 0.245, 0.246, 0.245, 0.244, 0.245, 0.245, 0.246, 0.245, 0.244,
  0.244, 0.245, 0.246, 0.245, 0.244, 0.245, 0.245, 0.246, 0.245, 0.244,
  0.244, 0.245, 0.246, 0.245, 0.244, 0.245, 0.245, 0.246, 0.245, 0.245,
  0.245, 0.245, 0.245, 0.245, 0.245];

const boundLabel = '3σ Boundary';

// panel layout: plot-area box [left, top, right, bottom] in page pixels
const panels = [
  { box: [33, 1, 380, 126], ymax: 0.33, major: 0.1, minor: 0.02, err: [tGrid, xErr], bound: [xBoundT, xBoundV], label: 'X Error (m)' },
  { box: [413, 1, 760, 126], ymax: 0.33, major: 0.1, minor: 0.02, err: [tGrid, yErr], bound: [yBoundT, yBoundV], label: 'Y Error (m)' },
  { box: [795, 1, 1141, 126], ymax: 0.33, major: 0.1, minor: 0.02, err: [tGrid, zErr], bound: [zBoundT, zBoundV], label: 'Z Error (m)' },
  { box: [48, 225, 384, 345], ymax: 0.0226, major: 0.005, minor: 0.001, err: [tGrid, rollErr], bound: [tGrid, rollBound], label: 'Roll Error (rad)' },
  { box: [430, 225, 765, 345], ymax: 0.0226, major: 0.005, minor: 0.001, err: [tGrid, pitchErr], bound: [tGrid, pitchBound], label: 'Pitch Error (rad)' },
  { box: [806, 225, 1141, 345], ymax: 0.226, major: 0.05, minor: 0.01, err: [tGrid, yawErr], bound: [tGrid, yawBound], label: 'Yaw Error (rad)' },
  { box: [33, 441, 380, 566], ymax: 0.33, major: 0.1, minor: 0.02, err: [tGrid, vbxErr], bound: [tGrid, vbxBound], label: 'v_{bx} Error(m/s)' },
  { box: [415, 441, 762, 566], ymax: 0.425, major: 0.1, minor: 0.02, err: [tGrid, vbyErr], bound: [tGrid, vbyBound], label: 'v_{by} Error (m/s)' },
  { box: [795, 441, 1141, 566], ymax: 0.425, major: 0.1, minor: 0.02, err: [tGrid, vbzErr], bound: [tGrid, vbzBound], label: 'v_{bz} Error (m/s)' },
  { box: [48, 663, 380, 784], ymax: 0.01315, major: 0.005, minor: 0.001, err: [tGrid, bgxErr], bound: [tGrid, bgxBound], label: 'b_{gx} Error (rad/s)' },
  { box: [430, 663, 762, 784], ymax: 0.01315, major: 0.005, minor: 0.001, err: [tGrid, bgyErr], bound: [tGrid, bgyBound], label: 'b_{gy} Error (rad/s)' },
  { box: [808, 663, 1141, 784], ymax: 0.01315, major: 0.005, minor: 0.001, err: [tGrid, bgzErr], bound: [tGrid, bgzBound], label: 'b_{gz} Error (rad/s)' },
  { box: [48, 880, 386, 1002], ymax: 0.021, major: 0.005, minor: 0.001, err: [tGrid, baxErr], bound: [tGrid, baxBound], label: 'b_{ax} Error (m/s^{2})' },
  { box: [430, 880, 768, 1002], ymax: 0.021, major: 0.005, minor: 0.001, err: [tGrid, bayErr], bound: [tGrid, bayBound], label: 'b_{ay} Error (m/s^{2})' },
  { box: [806, 880, 1141, 1002], ymax: 0.424, major: 0.1, minor: 0.02, err: [tHalf, bazErr], bound: [tGrid, bazBound], label: 'b_{az} Error (m/s^{2})' }
];

const captions = [['(a)', 200], ['(b)', 417], ['(c)', 640], ['(d)', 857], ['(e)', 1049]];

const TEXT = '#404040';
const PAD_T = 9, PAD_R = 16, X_H = 40;

function pts(t, v) {
  return t.map((x, i) => ({ x: x, y: v[i] }));
}
function onStep(v, step) {
  const r = v / step;
  return Math.abs(r - Math.round(r)) < 1e-6;
}
function fmt(v) {
  return String(+v.toFixed(5));
}

// split "v_{bx} Error" style labels into normal / sub / sup / italic pieces
function parseLabel(s) {
  const segs = [];
  let buf = '';
  let i = 0;
  while (i < s.length) {
    const c = s[i];
    if ((c === '_' || c === '^') && s[i + 1] === '{') {
      if (buf) { segs.push({ t: buf, m: 'n' }); buf = ''; }
      const j = s.indexOf('}', i);
      segs.push({ t: s.slice(i + 2, j), m: c === '_' ? 'sub' : 'sup' });
      i = j + 1;
    } else if (c === 'σ') {
      if (buf) { segs.push({ t: buf, m: 'n' }); buf = ''; }
      segs.push({ t: c, m: 'it' });
      i++;
    } else {
      buf += c;
      i++;
    }
  }
  if (buf) segs.push({ t: buf, m: 'n' });
  return segs;
}

const legendFonts = {
  n: '13px "Liberation Sans", Arial, sans-serif',
  it: 'italic 13px "Liberation Serif", serif',
  sub: '10px "Liberation Sans", Arial, sans-serif',
  sup: '10px "Liberation Sans", Arial, sans-serif'
};

const boxLegend = {
  id: 'boxLegend',
  afterDatasetsDraw(chart, args, opts) {
    const ctx = chart.ctx, area = chart.chartArea;
    let script = false;
    const items = opts.items.map(it => {
      const segs = parseLabel(it.label);
      let w = 0;
      segs.forEach(s => {
        if (s.m === 'sub' || s.m === 'sup') script = true;
        ctx.font = legendFonts[s.m];
        s.w = ctx.measureText(s.t).width;
        w += s.w;
      });
      return { segs: segs, w: w, color: it.color };
    });
    const lineLen = 28, gap = 3, between = 5, padL = 2, padR = 5;
    let width = padL + padR + between * (items.length - 1);
    items.forEach(it => { width += lineLen + gap + it.w; });
    width = Math.round(width);
    const h = script ? 26 : 19;
    const x0 = Math.round(area.right - 6 - width), y0 = Math.round(area.top + 6);
    ctx.save();
    ctx.fillStyle = '#ffffff';
    ctx.fillRect(x0, y0, width, h);
    ctx.strokeStyle = '#262626';
    ctx.lineWidth = 1;
    ctx.strokeRect(x0 + 0.5, y0 + 0.5, width, h);
    const base = y0 + (script ? 16 : 15);
    let x = x0 + padL;
    ctx.textAlign = 'left';
    ctx.textBaseline = 'alphabetic';
    items.forEach(it => {
      ctx.strokeStyle = it.color;
      ctx.lineWidth = 1.5;
      ctx.beginPath();
      ctx.moveTo(x, base - 4.5);
      ctx.lineTo(x + lineLen, base - 4.5);
      ctx.stroke();
      x += lineLen + gap;
      ctx.fillStyle = '#1a1a1a';
      it.segs.forEach(s => {
        ctx.font = legendFonts[s.m];
        const dy = s.m === 'sub' ? 5 : (s.m === 'sup' ? -6 : 0);
        ctx.fillText(s.t, x, base + dy);
        x += s.w;
      });
      x += between;
    });
    ctx.restore();
  }
};

// MATLAB-style box with inward tick marks
const axesBox = {
  id: 'axesBox',
  afterDraw(chart, args, opts) {
    const ctx = chart.ctx, a = chart.chartArea;
    const sx = chart.scales.x, sy = chart.scales.y;
    const l = Math.round(a.left) + 0.5, r = Math.round(a.right) - 0.5;
    const t = Math.round(a.top) + 0.5, b = Math.round(a.bottom) - 0.5;
    ctx.save();
    ctx.strokeStyle = '#262626';
    ctx.lineWidth = 1;
    ctx.strokeRect(l, t, r - l, b - t);
    ctx.beginPath();
    sx.ticks.forEach(tk => {
      if (!onStep(tk.value, 20)) return;
      const px = Math.round(sx.getPixelForValue(tk.value)) + 0.5;
      ctx.moveTo(px, b); ctx.lineTo(px, b - 4);
      ctx.moveTo(px, t); ctx.lineTo(px, t + 4);
    });
    sy.ticks.forEach(tk => {
      if (!onStep(tk.value, opts.major)) return;
      const py = Math.round(sy.getPixelForValue(tk.value)) + 0.5;
      ctx.moveTo(l, py); ctx.lineTo(l + 4, py);
      ctx.moveTo(r, py); ctx.lineTo(r - 4, py);
    });
    ctx.stroke();
    ctx.restore();
  }
};

Chart.defaults.font.family = '"Liberation Sans", Arial, sans-serif';

function gridColor(step) {
  return c => (c.tick && onStep(c.tick.value, step)) ? '#d9d9d9' : '#cfcfcf';
}
function gridDash(step) {
  return c => (c.tick && onStep(c.tick.value, step)) ? [] : [1, 2];
}

panels.forEach(p => {
  const [L, T, R, B] = p.box;
  const yw = Math.min(46, L);
  const w = R - L + yw + PAD_R, h = B - T + PAD_T + X_H;
  const cv = document.createElement('canvas');
  cv.width = w;
  cv.height = h;
  cv.style.cssText = 'position:absolute;left:' + (L - yw) + 'px;top:' + (T - PAD_T) + 'px;width:' + w + 'px;height:' + h + 'px';
  document.body.appendChild(cv);

  new Chart(cv, {
    type: 'line',
    data: {
      datasets: [
        { data: pts(p.bound[0], p.bound[1]), borderColor: '#ff0000', borderWidth: 1.5, pointRadius: 0, cubicInterpolationMode: 'monotone' },
        { data: pts(p.err[0], p.err[1]), borderColor: '#0000ff', borderWidth: 1.4, pointRadius: 0, tension: 0 }
      ]
    },
    options: {
      responsive: false,
      animation: false,
      devicePixelRatio: 1,
      events: [],
      layout: { padding: { top: PAD_T, right: PAD_R, left: 0, bottom: 0 } },
      plugins: {
        legend: { display: false },
        tooltip: { enabled: false },
        boxLegend: { items: [{ label: p.label, color: '#0000ff' }, { label: boundLabel, color: '#ff0000' }] },
        axesBox: { major: p.major }
      },
      scales: {
        x: {
          type: 'linear', min: 0, max: 100,
          ticks: {
            stepSize: 5, autoSkip: false, maxRotation: 0, padding: 6, color: TEXT,
            font: { size: 13 },
            callback: v => onStep(v, 20) ? fmt(v) : ''
          },
          grid: { drawTicks: false, color: gridColor(20), lineWidth: 1 },
          border: { display: false, dash: gridDash(20) },
          title: { display: true, text: 'Time (s)', color: TEXT, font: { size: 14 }, padding: { top: 0, bottom: 1 } },
          afterFit: s => { s.height = X_H; }
        },
        y: {
          type: 'linear', min: 0, max: p.ymax,
          ticks: {
            stepSize: p.minor, autoSkip: false, includeBounds: false, padding: 4, color: TEXT,
            font: { size: 13 },
            callback: v => onStep(v, p.major) ? fmt(v) : ''
          },
          grid: { drawTicks: false, color: gridColor(p.major), lineWidth: 1 },
          border: { display: false, dash: gridDash(p.major) },
          afterFit: s => { s.width = yw; }
        }
      }
    },
    plugins: [boxLegend, axesBox]
  });
});

captions.forEach(([txt, y]) => {
  const d = document.createElement('div');
  d.className = 'cap';
  d.textContent = txt;
  d.style.left = '587px';
  d.style.top = (y - 12) + 'px';
  document.body.appendChild(d);
});
</script>
</body>
</html>
